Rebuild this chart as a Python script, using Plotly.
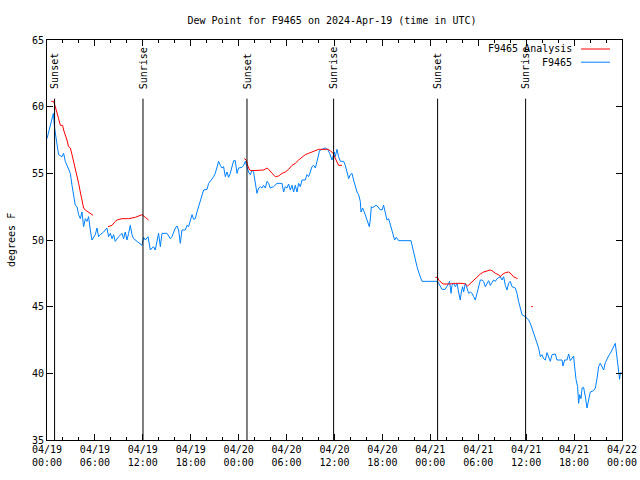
import pandas as pd
import plotly.graph_objects as go

# ---- data (hours since 2024-04-19 00:00 UTC, degrees F) ----
obs_hours = [0.0, 0.62, 0.8, 0.95, 1.25, 1.45, 1.88, 2.08, 2.29, 2.70, 2.92, 3.13, 3.33, 3.54, 3.76, 3.96,
             4.17, 4.38, 4.58, 4.80, 5.01, 5.21, 5.42, 5.63, 6.05, 6.26, 6.46, 6.67, 7.09, 7.51, 7.71, 7.93,
             8.14, 8.34, 8.55, 8.97, 9.39, 9.59, 9.80, 10.02, 10.22, 10.43, 10.64, 10.84, 11.27, 11.68, 11.90,
             12.10, 12.31, 12.65, 12.94, 13.15, 13.35, 13.56, 13.77, 13.97, 14.19, 14.40, 15.03, 15.44, 15.65,
             16.07, 16.28, 16.48, 16.69, 16.90, 17.32, 17.53, 17.73, 17.94, 18.16, 18.36, 18.57, 18.78, 18.98,
             19.20, 19.41, 19.61, 20.04, 20.24, 20.45, 20.66, 20.86, 21.07, 21.29, 21.49, 21.70, 21.91, 22.11,
             22.33, 22.54, 22.74, 22.95, 23.16, 23.37, 23.58, 23.79, 23.99, 24.42, 24.62, 24.83, 25.04, 25.24,
             25.46, 25.67, 25.87, 26.08, 26.29, 26.50, 26.71, 26.92, 27.12, 27.34, 27.55, 27.75, 27.96, 28.37,
             28.80, 29.43, 29.63, 29.84, 30.05, 30.25, 30.47, 30.68, 30.88, 31.09, 31.30, 31.51, 31.72, 31.93,
             32.34, 32.55, 32.76, 32.97, 33.18, 33.38, 33.60, 33.81, 34.01, 34.13, 34.44, 34.85, 35.14, 35.39,
             35.69, 35.98, 36.10, 36.31, 36.51, 36.73, 37.14, 37.35, 37.57, 37.77, 37.98, 38.19, 38.39, 38.61,
             38.82, 39.02, 39.23, 39.32, 39.52, 39.73, 39.86, 40.07, 40.36, 40.48, 40.61, 40.77, 40.90, 41.20,
             41.45, 41.65, 41.95, 42.15, 42.36, 42.57, 42.78, 42.99, 43.20, 43.40, 43.53, 43.74, 44.03, 45.58,
             45.71, 45.91, 46.12, 46.33, 46.53, 46.75, 46.96, 48.91, 49.04, 49.25, 49.46, 49.87, 50.09, 50.29,
             50.41, 50.59, 50.71, 50.91, 51.13, 51.34, 51.54, 51.75, 51.88, 52.04, 52.17, 52.38, 52.59, 52.79,
             53.01, 53.22, 53.42, 53.63, 53.84, 54.04, 54.26, 54.47, 54.67, 54.88, 55.10, 55.30, 55.51, 55.72,
             55.92, 56.14, 56.35, 56.76, 56.97, 57.18, 57.39, 57.60, 57.80, 58.01, 58.23, 58.64, 58.85, 59.05,
             59.27, 59.48, 59.90, 60.31, 60.52, 60.73, 60.93, 61.15, 61.36, 61.56, 61.77, 61.98, 62.18, 62.40,
             62.61, 62.81, 63.02, 63.24, 63.65, 63.86, 64.49, 64.61, 64.82, 65.11, 65.32, 65.53, 65.74, 65.94,
             66.07, 66.24, 66.44, 66.57, 66.70, 66.87, 67.00, 67.19, 67.41, 67.62, 67.82, 68.03, 68.44, 68.66,
             68.87, 69.07, 69.28, 69.50, 69.70, 69.91, 70.12, 70.32, 70.54, 70.75, 70.95, 71.16, 71.29, 71.45,
             71.58, 71.70, 71.79, 71.92]
obs_dewpt = [57.6, 59.1, 59.5, 58.4, 57.1, 56.4, 56.25, 56.5, 55.9, 55.25, 55.0, 54.1, 53.4, 52.6, 52.5, 51.9,
             51.6, 52.1, 51.0, 51.6, 51.4, 51.75, 50.75, 50.0, 50.4, 50.9, 50.25, 50.4, 50.6, 50.9, 50.25, 50.5,
             50.1, 50.4, 49.9, 50.25, 50.5, 50.1, 50.6, 50.0, 50.5, 51.1, 50.4, 50.1, 49.9, 49.7, 49.6,
             50.2, 50.0, 50.25, 49.25, 49.4, 49.5, 49.25, 50.0, 50.5, 49.5, 50.5, 50.5, 50.1, 50.25,
             50.9, 51.05, 50.75, 49.75, 50.75, 50.75, 51.1, 51.0, 51.5, 51.9, 51.55, 51.6, 52.1, 52.5,
             52.75, 53.25, 53.75, 53.8, 54.25, 54.4, 54.55, 54.75, 55.0, 55.5, 55.9, 55.6, 55.4, 55.5,
             54.75, 55.1, 54.7, 55.0, 55.5, 55.95, 55.95, 55.0, 55.4, 55.45, 55.6, 55.9, 55.5, 55.1,
             54.9, 55.25, 55.1, 54.4, 53.5, 53.9, 54.0, 53.9, 54.1, 53.9, 54.4, 54.25, 53.9, 54.0,
             54.25, 54.25, 53.6, 54.0, 53.9, 54.2, 53.75, 54.1, 53.6, 54.1, 53.6, 54.25, 54.0, 54.5,
             54.5, 54.9, 54.75, 55.1, 55.5, 55.6, 55.4, 55.9, 56.4, 56.7, 56.8, 56.9, 56.8, 56.5,
             56.0, 56.6, 56.25, 56.8, 56.25, 55.9, 55.9, 55.6, 55.1, 54.6, 54.9, 55.0, 54.5, 54.0,
             53.6, 53.4, 52.9, 52.1, 52.4, 52.1, 51.9, 51.5, 51.0, 51.5, 52.5, 52.4, 52.5, 52.6,
             52.5, 52.3, 52.25, 52.6, 52.1, 51.5, 51.6, 51.1, 50.75, 50.25, 50.0, 50.2, 49.95, 49.95,
             49.6, 49.0, 48.5, 48.0, 47.6, 47.25, 46.9, 46.9, 46.75, 46.5, 46.3, 46.3, 46.5, 46.75,
             46.9, 46.0, 46.6, 46.75, 46.5, 46.75, 46.1, 45.5, 46.1, 46.5, 46.1, 46.75, 46.4, 46.0,
             46.1, 46.0, 45.75, 45.5, 46.0, 46.5, 47.0, 47.0, 46.9, 46.5, 46.75, 46.95, 46.6, 46.8,
             47.0, 46.9, 47.1, 47.25, 47.0, 47.25, 46.6, 46.25, 46.75, 46.9, 46.5, 46.4, 46.0, 45.4,
             44.9, 44.4, 44.25, 44.0, 43.75, 43.4, 43.0, 42.6, 42.3, 41.9, 41.25, 41.4, 41.1, 41.0,
             41.55, 41.25, 40.9, 41.4, 41.45, 41.0, 41.0, 40.55, 41.0, 41.0, 41.45, 40.95, 41.1, 41.3,
             40.5, 39.55, 39.0, 37.75, 38.4, 38.1, 38.9, 38.95, 38.25, 37.4, 38.0, 38.6, 38.7, 38.9,
             39.6, 40.5, 40.75, 40.5, 40.25, 40.8, 41.1, 41.3, 41.5, 41.75, 42.0, 42.25, 41.6, 40.75,
             40.1, 39.55, 40.0, 40.1]

ana_hours = [0.54, 0.83, 1.04, 1.25, 1.45, 1.67, 1.95, 2.08, 2.29, 2.50, 2.70, 2.92, 3.13, 3.33, 3.54, 3.76,
             3.96, 4.17, 4.38, 4.58, 4.80, 5.21, 5.76, None,
             7.64, 8.14, 8.55, 8.77, 9.39, 10.22, 11.06, 11.47, 11.90, 12.31, 12.72, None,
             24.71, 24.96, 25.12, 25.37, 25.67, 26.71, 27.12, 27.55, 27.75, 28.17, 28.59, 29.00, 29.43, 29.84,
             30.25, 30.68, 31.09, 31.51, 31.93, 32.34, 32.76, 33.18, 33.60, 34.01, 35.14, 35.48, 35.81, 36.10,
             36.31, 36.51, 36.94, None,
             48.63, 48.91, 49.04, 49.25, 49.59, 50.50, 50.91, 51.97, 52.38, 52.67, 53.01, 53.42, 53.84, 54.26,
             54.67, 55.10, 55.51, 55.72, 56.14, 56.55, 56.76, 56.97, 57.39, 57.80, 58.14, 58.39, 58.77, 58.93,
             None, 60.64, 60.85]
ana_dewpt = [60.4, 60.4, 60.0, 59.6, 59.1, 58.6, 58.6, 58.25, 57.9, 57.5, 57.0, 56.9, 56.4, 55.9, 55.4, 54.9,
             54.25, 53.6, 53.0, 52.4, 52.25, 52.1, 51.85, None,
             51.0, 51.1, 51.4, 51.5, 51.6, 51.6, 51.7, 51.8, 51.9, 51.7, 51.5, None,
             56.1, 56.0, 55.6, 55.25, 55.2, 55.2, 55.25, 55.4, 55.3, 55.0, 54.75, 54.8, 55.0, 55.1,
             55.3, 55.6, 55.75, 56.0, 56.2, 56.4, 56.5, 56.6, 56.75, 56.8, 56.8, 56.7, 56.5, 56.1,
             55.9, 55.6, 55.6, None,
             47.2, 47.2, 47.0, 46.9, 46.7, 46.7, 46.75, 46.75, 46.7, 46.55, 46.75, 47.0, 47.25, 47.45,
             47.6, 47.7, 47.75, 47.7, 47.5, 47.4, 47.25, 47.4, 47.55, 47.6, 47.45, 47.25, 47.1, 47.1,
             None, 45.0, 45.0]

sun_hours = [0.95, 12.02, 25.04, 35.89, 48.91, 59.93]
sun_labels = ["Sunset", "Sunrise", "Sunset", "Sunrise", "Sunset", "Sunrise"]
sun_line_top = 60.6

tick_hours = [0, 6, 12, 18, 24, 30, 36, 42, 48, 54, 60, 66, 72]
y_ticks = [35, 40, 45, 50, 55, 60, 65]

series_names = ["F9465 Analysis", "F9465"]
series_colors = ["#ff0000", "#0080ff"]

title_text = "Dew Point for F9465 on 2024-Apr-19 (time in UTC)"
y_title = "degrees F"

# ---- build ----
base = pd.Timestamp("2024-04-19 00:00")


def to_time(hs):
    return [None if h is None else base + pd.Timedelta(hours=h) for h in hs]


FONT = "DejaVu Sans Mono"
FIG_W, FIG_H = 640, 480
fig = go.Figure()

fig.add_trace(go.Scatter(x=to_time(obs_hours), y=obs_dewpt, mode="lines", name=series_names[1],
                         line=dict(color=series_colors[1], width=1), showlegend=False,
                         connectgaps=False))
fig.add_trace(go.Scatter(x=to_time(ana_hours), y=ana_dewpt, mode="lines", name=series_names[0],
                         line=dict(color=series_colors[0], width=1), showlegend=False,
                         connectgaps=False))

for h, lab in zip(sun_hours, sun_labels):
    t = base + pd.Timedelta(hours=h)
    fig.add_shape(type="line", xref="x", yref="y", x0=t, x1=t, y0=35, y1=sun_line_top,
                  line=dict(color="black", width=1))
    fig.add_annotation(x=t, y=sun_line_top + 0.55, xref="x", yref="y", text=lab, textangle=-90,
                       showarrow=False, xanchor="center", yanchor="bottom",
                       font=dict(family=FONT, size=10, color="black"))

# custom gnuplot-style key (text right, sample line on its right)
key_rows = [(0.9775, series_names[0], series_colors[0]), (0.9445, series_names[1], series_colors[1])]
for yk, name, col in key_rows:
    fig.add_annotation(x=0.9165, y=yk, xref="paper", yref="paper", text=name, showarrow=False,
                       xanchor="right", yanchor="middle", font=dict(family=FONT, size=10, color="black"))
    fig.add_shape(type="line", xref="paper", yref="paper", x0=0.9287, x1=0.9791, y0=yk, y1=yk,
                  line=dict(color=col, width=1))

# y-axis title
fig.add_annotation(x=-0.0626, y=0.5, xref="paper", yref="paper", text=y_title, textangle=-90,
                   showarrow=False, xanchor="center", yanchor="middle",
                   font=dict(family=FONT, size=10, color="black"))

tick_times = to_time(tick_hours)
tick_text = [f"{t:%m/%d}<br>{t:%H:%M}" for t in tick_times]

fig.update_layout(
    width=FIG_W, height=FIG_H,
    margin=dict(l=47, r=18, t=40, b=40, autoexpand=False),
    paper_bgcolor="white", plot_bgcolor="white",
    title=dict(text=title_text, x=332 / FIG_W, xanchor="center", y=1 - 20 / FIG_H,
               yanchor="middle", font=dict(family=FONT, size=10, color="black")),
    font=dict(family=FONT, size=10, color="black"),
    showlegend=False,
)
fig.update_xaxes(
    range=[tick_times[0], tick_times[-1]], tickvals=tick_times, ticktext=tick_text, automargin=False,
    ticklabeloverflow="allow",
    showgrid=False, zeroline=False, showline=True, linecolor="black", linewidth=1, mirror="ticks",
    ticks="inside", ticklen=6, tickcolor="black", tickfont=dict(family=FONT, size=10),
    minor=dict(dtick=2 * 3600 * 1000, ticks="inside", ticklen=3, tickcolor="black", showgrid=False),
)
fig.update_yaxes(
    range=[35, 65], tickvals=y_ticks, ticktext=[str(v) for v in y_ticks], automargin=False,
    showgrid=False, zeroline=False, showline=True, linecolor="black", linewidth=1, mirror="ticks",
    ticks="inside", ticklen=6, tickcolor="black", tickfont=dict(family=FONT, size=10),
)

fig.write_html("out.html", config={"displayModeBar": False},
               post_script="document.body.style.margin='0';document.body.style.overflow='hidden';")
